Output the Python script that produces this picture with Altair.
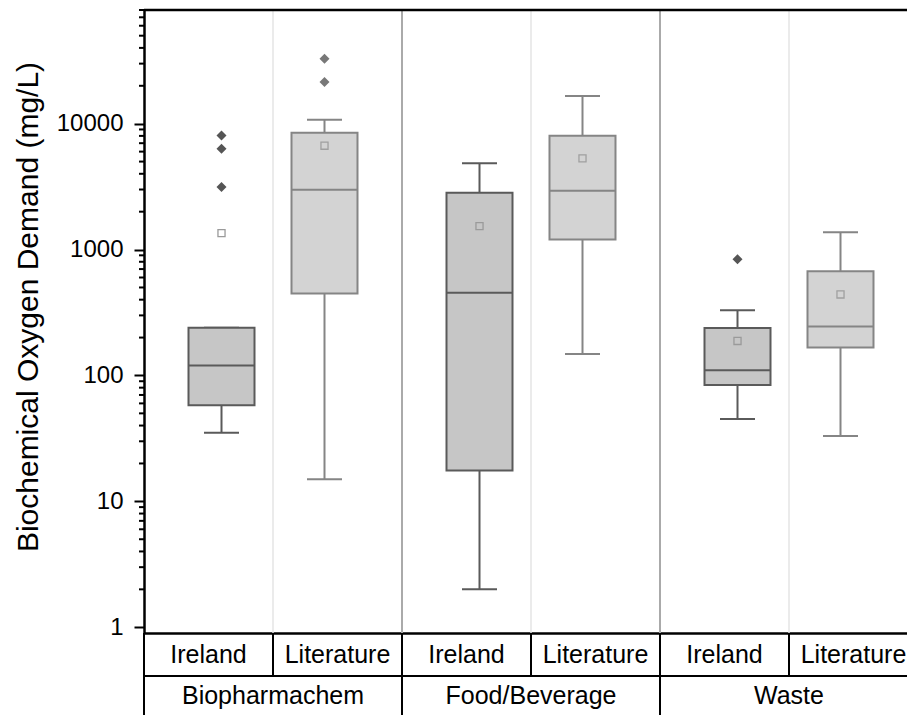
import altair as alt
import pandas as pd

# ---- data ----
groups = ["Biopharmachem", "Food/Beverage", "Waste"]
sources = ["Ireland", "Literature"]

box_group = ["Biopharmachem", "Biopharmachem", "Food/Beverage", "Food/Beverage", "Waste", "Waste"]
box_source = ["Ireland", "Literature", "Ireland", "Literature", "Ireland", "Literature"]
whisker_low = [35, 15, 2, 148, 45, 33]
q1 = [58, 448, 17.6, 1200, 84, 167]
median = [120, 2990, 454, 2935, 110, 245]
q3 = [239, 8480, 2830, 8030, 238, 674]
whisker_high = [239, 10760, 4840, 16560, 330, 1376]
mean = [1352, 6685, 1536, 5300, 188, 440]

outlier_group = ["Biopharmachem", "Biopharmachem", "Biopharmachem", "Biopharmachem", "Biopharmachem", "Waste"]
outlier_source = ["Ireland", "Ireland", "Ireland", "Literature", "Literature", "Ireland"]
outlier_value = [8075, 6327, 3135, 32850, 21400, 839]

major_ticks = [1, 10, 100, 1000, 10000]
minor_ticks = [m * 10 ** k for k in range(5) for m in range(2, 10) if m * 10 ** k <= 80000]

# ---- tables ----
box_df = pd.DataFrame({
    "group": box_group, "source": box_source, "wlo": whisker_low, "q1": q1,
    "median": median, "q3": q3, "whi": whisker_high, "mean": mean,
})
out_df = pd.DataFrame({"group": outlier_group, "source": outlier_source, "value": outlier_value})
grid_df = pd.DataFrame({"group": groups})
minor_df = pd.DataFrame({"v": minor_ticks})
one_df = pd.DataFrame({"a": [0]})
lab_df = pd.DataFrame({"group": [g for g in groups for s in sources],
                       "source": [s for g in groups for s in sources]})

W, H = 763, 623
FONT = "Liberation Sans"

xs = alt.Scale(domain=groups, range=[0, 774], paddingInner=0, paddingOuter=0)
xo = alt.Scale(domain=sources, paddingInner=0, paddingOuter=0.2525)
ys = alt.Scale(type="log", domain=[0.9, 80000], nice=False)

yaxis = alt.Axis(
    values=major_ticks, format="d", title="Biochemical Oxygen Demand (mg/L)",
    titleFontSize=30, titleFont=FONT, titleFontWeight="normal", titleColor="black",
    titleAngle=270, titleAlign="center", titleBaseline="alphabetic",
    titleX=-107, titleY=296.5,
    labelFont=FONT, labelFontSize=24, labelColor="black", labelPadding=11,
    tickSize=10, tickWidth=2, tickColor="black",
    domainColor="black", domainWidth=2.5, grid=False,
)
xaxis = alt.Axis(labels=False, ticks=False, title=None, domainColor="black",
                 domainWidth=2.5, grid=False)


def X(**kw):
    return alt.X("group:N", scale=xs, axis=xaxis, **kw)


def Y(field):
    return alt.Y(field, scale=ys, axis=yaxis)


XO = alt.XOffset("source:N", scale=xo)

styles = {
    "Ireland": dict(fill="#c6c6c6", line="#5a5a5a", out="#555555", meanc="#9a9a9a"),
    "Literature": dict(fill="#d3d3d3", line="#858585", out="#787878", meanc="#a0a0a0"),
}

layers = []

# background gridlines
layers.append(alt.Chart(grid_df).mark_rule(color="#e4e4e4", strokeWidth=1.5).encode(
    x=X(bandPosition=0.5), y=alt.value(0), y2=alt.value(H)))
layers.append(alt.Chart(grid_df[grid_df.group != groups[0]]).mark_rule(color="#aaaaaa", strokeWidth=2).encode(
    x=X(bandPosition=0), y=alt.value(0), y2=alt.value(H)))

for src in sources:
    st = styles[src]
    d = alt.Chart(box_df[box_df.source == src])
    # whiskers
    layers.append(d.mark_rule(color=st["line"], strokeWidth=2).encode(
        x=X(), xOffset=XO, y=Y("wlo:Q"), y2="q1:Q"))
    layers.append(d.mark_rule(color=st["line"], strokeWidth=2).encode(
        x=X(), xOffset=XO, y=Y("q3:Q"), y2="whi:Q"))
    # caps
    layers.append(d.mark_tick(color=st["line"], size=35, thickness=2, opacity=1).encode(
        x=X(), xOffset=XO, y=Y("wlo:Q")))
    layers.append(d.mark_tick(color=st["line"], size=35, thickness=2, opacity=1).encode(
        x=X(), xOffset=XO, y=Y("whi:Q")))
    # boxes
    layers.append(d.mark_bar(size=66, fill=st["fill"], stroke=st["line"], strokeWidth=2).encode(
        x=X(), xOffset=XO, y=Y("q3:Q"), y2="q1:Q"))
    # median
    layers.append(d.mark_tick(color=st["line"], size=66, thickness=2, opacity=1).encode(
        x=X(), xOffset=XO, y=Y("median:Q")))
    # mean
    layers.append(d.mark_point(shape="square", filled=False, size=50, strokeWidth=1.3,
                               color=st["meanc"], opacity=1).encode(
        x=X(), xOffset=XO, y=Y("mean:Q")))
    # outliers
    layers.append(alt.Chart(out_df[out_df.source == src]).mark_point(
        shape="diamond", filled=True, size=100, color=st["out"], opacity=1).encode(
        x=X(), xOffset=XO, y=Y("value:Q")))

# minor ticks on the y axis
layers.append(alt.Chart(minor_df).mark_rule(color="black", strokeWidth=2).encode(
    y=Y("v:Q"), x=alt.value(-5), x2=alt.value(0)))

# top border
layers.append(alt.Chart(one_df).mark_rule(color="black", strokeWidth=2.5).encode(
    x=alt.value(0), x2=alt.value(W + 20), y=alt.value(0)))

# label table: lines
layers.append(alt.Chart(grid_df).mark_rule(color="black", strokeWidth=2).encode(
    x=X(bandPosition=0), y=alt.value(H), y2=alt.value(H + 95)))
layers.append(alt.Chart(grid_df).mark_rule(color="black", strokeWidth=2).encode(
    x=X(bandPosition=0.5), y=alt.value(H), y2=alt.value(H + 43)))
layers.append(alt.Chart(one_df).mark_rule(color="black", strokeWidth=2).encode(
    x=alt.value(0), x2=alt.value(W + 20), y=alt.value(H + 43)))

# label table: texts
for i, src in enumerate(sources):
    layers.append(alt.Chart(lab_df[lab_df.source == src]).mark_text(
        font=FONT, fontSize=25, color="black", baseline="alphabetic", align="center").encode(
        x=X(bandPosition=(i + 0.5) / 2), y=alt.value(H + 30), text="source:N"))
layers.append(alt.Chart(grid_df).mark_text(
    font=FONT, fontSize=25, color="black", baseline="alphabetic", align="center").encode(
    x=X(bandPosition=0.5), y=alt.value(H + 71), text="group:N"))

chart = alt.layer(*layers).properties(
    width=W, height=H,
    padding={"left": 144, "top": 10, "right": 0, "bottom": 82},
    autosize=alt.AutoSizeParams(type="none"),
).configure_view(stroke=None)

chart.save("out.html", embed_options={"renderer": "svg", "actions": False})
